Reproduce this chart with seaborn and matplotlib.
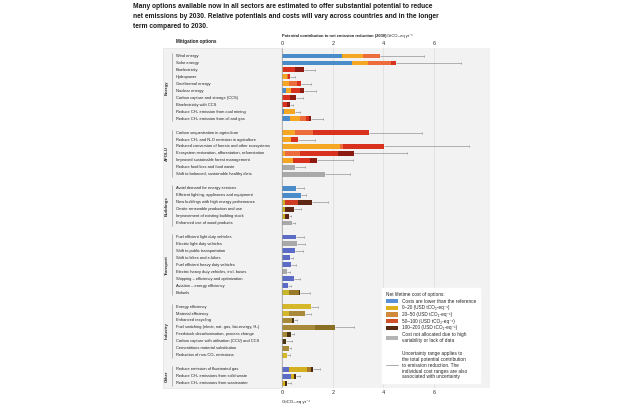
import numpy as np
import pandas as pd
import matplotlib
matplotlib.use("Agg")
import matplotlib.pyplot as plt
import seaborn as sns
from matplotlib.patches import Patch, Rectangle
from matplotlib.lines import Line2D

# data (GtCO2-eq per year)
sectors = ["Energy", "AFOLU", "Buildings", "Transport", "Industry", "Other"]
sector_sizes = [10, 7, 6, 9, 8, 3]

options = [
    "Wind energy", "Solar energy", "Bioelectricity", "Hydropower", "Geothermal energy",
    "Nuclear energy", "Carbon capture and storage (CCS)", "Bioelectricity with CCS",
    "Reduce CH₄ emission from coal mining", "Reduce CH₄ emission from oil and gas",
    "Carbon sequestration in agriculture", "Reduce CH₄ and N₂O emission in agriculture",
    "Reduced conversion of forests and other ecosystems",
    "Ecosystem restoration, afforestation, reforestation",
    "Improved sustainable forest management", "Reduce food loss and food waste",
    "Shift to balanced, sustainable healthy diets",
    "Avoid demand for energy services", "Efficient lighting, appliances and equipment",
    "New buildings with high energy performance", "Onsite renewable production and use",
    "Improvement of existing building stock", "Enhanced use of wood products",
    "Fuel efficient light duty vehicles", "Electric light duty vehicles",
    "Shift to public transportation", "Shift to bikes and e-bikes",
    "Fuel efficient heavy duty vehicles", "Electric heavy duty vehicles, incl. buses",
    "Shipping – efficiency and optimization", "Aviation – energy efficiency", "Biofuels",
    "Energy efficiency", "Material efficiency", "Enhanced recycling",
    "Fuel switching (electr, nat. gas, bio-energy, H₂)",
    "Feedstock decarbonisation, process change",
    "Carbon capture with utilisation (CCU) and CCS",
    "Cementitious material substitution", "Reduction of non-CO₂ emissions",
    "Reduce emission of fluorinated gas", "Reduce CH₄ emissions from solid waste",
    "Reduce CH₄ emissions from wastewater",
]

cost_below = [2.36, 2.76, 0, 0, 0, 0.17, 0, 0, 0.07, 0.30,
              0, 0, 0, 0, 0, 0, 0,
              0.56, 0.73, 0, 0, 0, 0,
              0.56, 0, 0.52, 0.30, 0.35, 0, 0.47, 0.24, 0,
              0, 0, 0, 0, 0, 0, 0, 0,
              0.26, 0.37, 0]
cost_0_20 = [0.83, 0.63, 0.05, 0.20, 0.26, 0.20, 0, 0, 0.43, 0.40,
             0.52, 0.37, 2.27, 0.13, 0.42, 0, 0,
             0, 0, 0.10, 0.13, 0.13, 0,
             0, 0, 0, 0, 0, 0, 0, 0, 0.26,
             1.13, 0.26, 0, 0, 0, 0, 0, 0.20,
             0.74, 0.10, 0.13]
cost_20_50 = [0.66, 0.91, 0, 0.05, 0.33, 0, 0, 0, 0, 0.25,
              0.70, 0, 0.15, 0.59, 0, 0, 0,
              0, 0, 0, 0, 0, 0,
              0, 0, 0, 0, 0, 0, 0, 0, 0.40,
              0, 0.66, 0.39, 1.29, 0.20, 0, 0.26, 0,
              0.13, 0, 0]
cost_50_100 = [0, 0.20, 0.45, 0.08, 0.14, 0.33, 0.33, 0.20, 0, 0.10,
               2.20, 0.26, 1.62, 1.48, 0.70, 0, 0,
               0, 0, 0.55, 0, 0, 0,
               0, 0, 0, 0, 0, 0, 0, 0, 0,
               0, 0, 0, 0.81, 0, 0, 0, 0,
               0, 0, 0]
cost_100_200 = [0, 0, 0.37, 0, 0, 0.17, 0.21, 0.12, 0, 0.11,
                0, 0, 0, 0.63, 0.27, 0, 0,
                0, 0, 0.53, 0.34, 0.13, 0,
                0, 0, 0, 0, 0, 0, 0, 0, 0.04,
                0, 0, 0.08, 0, 0.17, 0.16, 0, 0,
                0.09, 0.09, 0.07]
cost_na = [0, 0, 0, 0, 0, 0, 0, 0, 0, 0,
           0, 0, 0, 0, 0, 0.50, 1.68,
           0, 0, 0, 0, 0, 0.39,
           0, 0.60, 0, 0, 0, 0.21, 0, 0, 0,
           0, 0, 0, 0, 0, 0, 0, 0,
           0, 0, 0]
range_high = [5.6, 7.04, 1.29, 0.5, 1.13, 1.35, 0.83, 0.45, 0.7, 1.61,
              5.5, 1.3, 7.36, 4.92, 2.8, 0.9, 2.7,
              0.87, 0.96, 1.81, 0.73, 0.34, 0.52,
              0.87, 0.9, 0.83, 0.43, 0.55, 0.33, 0.7, 0.37, 1.09,
              1.42, 1.15, 0.6, 2.85, 0.49, 0.4, 0.34, 0.3,
              1.5, 0.7, 0.35]

cost_labels = ["Costs are lower than the reference",
               "0–20 (USD tCO₂-eq⁻¹)", "20–50 (USD tCO₂-eq⁻¹)",
               "50–100 (USD tCO₂-eq⁻¹)", "100–200 (USD tCO₂-eq⁻¹)",
               "Cost not allocated due to high\nvariability or lack of data"]
legend_colors = ["#5b8fd6", "#dcb020", "#cf8a3a", "#d0502a", "#5a2a10", "#b3b3b3"]

# bar colours as they appear in each block of the figure
sector_colors = {
    "Energy":    ["#4a8bc9", "#f5a623", "#ec6c3c", "#d8321e", "#8e1b12", "#a9a9a9"],
    "AFOLU":     ["#4a8bc9", "#f5a623", "#ec6c3c", "#d8321e", "#8e1b12", "#a9a9a9"],
    "Buildings": ["#4a8bc9", "#c9b12a", "#a88a2e", "#cf3a22", "#5e2614", "#a9a9a9"],
    "Transport": ["#5c6bc6", "#c8b62a", "#9a7a2a", "#b0501e", "#4a3510", "#a9a9a9"],
    "Industry":  ["#5c6bc6", "#d4b82a", "#a8893a", "#8a7025", "#4a3510", "#a9a9a9"],
    "Other":     ["#5c6bc6", "#d4b020", "#a87a2a", "#c0501e", "#4a2a10", "#a9a9a9"],
}

sector_of = [s for s, n in zip(sectors, sector_sizes) for _ in range(n)]
sector_idx = [i for i, n in enumerate(sector_sizes) for _ in range(n)]
pos = np.arange(len(options)) + np.array(sector_idx)

layers = np.array([cost_below, cost_0_20, cost_20_50, cost_50_100, cost_100_200, cost_na])
cum = np.cumsum(layers, axis=0)
total = cum[-1]

sns.set_theme(style="white")
fam = ["Liberation Sans", "DejaVu Sans"]
plt.rcParams["font.family"] = fam

fig = plt.figure(figsize=(6.4, 4.08), dpi=100)
ax = fig.add_axes([282 / 640, 1 - 388 / 408, 208 / 640, 340 / 408])

# grey panel behind the labels
fig.patches.append(Rectangle((163 / 640, 1 - 388 / 408), 118 / 640, 340 / 408,
                             transform=fig.transFigure, facecolor="#f2f2f2",
                             edgecolor="#dddddd", lw=0.4, zorder=-5))
ax.set_facecolor("#f2f2f2")

# uncertainty whiskers
ax.hlines(pos, total, range_high, color="#8a8a8a", lw=0.45, zorder=1)
ax.plot(range_high, pos, ls="none", marker="|", ms=1.8, mew=0.45, color="#8a8a8a", zorder=1)

# stacked bars: draw cumulative sums from the outside in
for k in range(len(layers) - 1, -1, -1):
    df = pd.DataFrame({"val": cum[k], "pos": pos, "sector": sector_of})
    pal = {s: sector_colors[s][k] for s in sectors}
    sns.barplot(data=df, x="val", y="pos", hue="sector", palette=pal, orient="h",
                native_scale=True, dodge=False, width=0.7, legend=False,
                linewidth=0, saturation=1, ax=ax, zorder=2)

ax.set_xlim(0, 8.2)
ax.set_ylim(47.7, -1.15)
ax.set_xticks([0, 2, 4, 6])
ax.set_yticks([])
ax.set_xlabel("")
ax.set_ylabel("")
ax.tick_params(axis="x", top=True, labeltop=True, length=0, pad=1.5, labelsize=4,
               colors="#333333")
for x in [2, 4, 6]:
    ax.axvline(x, color="#dcdcdc", lw=0.5, zorder=0.5)
ax.axvline(0, color="#999999", lw=0.5, zorder=3)
for sp in ax.spines.values():
    sp.set_visible(False)

# option labels and sector brackets
tr = ax.get_yaxis_transform()
for p, name in zip(pos, options):
    ax.text(-0.51, p, name, transform=tr, fontsize=2.9, va="center", ha="left",
            color="#222222", clip_on=False)
start = 0
for s, n in zip(sectors, sector_sizes):
    p0, p1 = pos[start], pos[start + n - 1]
    ax.plot([-0.53, -0.53], [p0 - 0.4, p1 + 0.4], transform=tr, color="#888888",
            lw=0.4, clip_on=False)
    ax.text(-0.553, (p0 + p1) / 2, s, transform=tr, rotation=90, fontsize=3.2,
            fontweight="bold", va="center", ha="center", color="#333333", clip_on=False)
    start += n

fig.text(176 / 640, 1 - 41 / 408, "Mitigation options", fontsize=3.3, fontweight="bold",
         va="center", ha="left", color="#222222")
head = fig.text(282 / 640, 1 - 36 / 408,
                "Potential contribution to net emission reduction (2030)", fontsize=2.9,
                fontweight="bold", va="center", ha="left", color="#222222")
ax.annotate(" GtCO₂-eq yr⁻¹", xy=(1, 0.5), xycoords=head, fontsize=2.9, va="center",
            ha="left", color="#222222", annotation_clip=False)
fig.text(282 / 640, 1 - 402 / 408, "GtCO₂-eq yr⁻¹", fontsize=3.2, va="center",
         ha="left", color="#222222")

fig.text(133 / 640, 1 - 2.5 / 408,
         "Many options available now in all sectors are estimated to offer substantial potential to reduce\n"
         "net emissions by 2030. Relative potentials and costs will vary across countries and in the longer\n"
         "term compared to 2030.",
         fontsize=4.8, fontweight="bold", va="top", ha="left", color="#1a1a1a",
         linespacing=1.6)

# legend
handles = [Patch(facecolor=c, edgecolor="none") for c in legend_colors]
labels = list(cost_labels)
handles.append(Line2D([], [], color="none"))
labels.append("")
handles.append(Line2D([], [], color="#8a8a8a", lw=0.5))
labels.append("Uncertainty range applies to\nthe total potential contribution\n"
              "to emission reduction. The\nindividual cost ranges are also\n"
              "associated with uncertainty")
leg = ax.legend(handles, labels, title="Net lifetime cost of options:",
                loc="upper left", bbox_to_anchor=(0.47, 0.3), fontsize=3.4,
                title_fontsize=3.4, frameon=True, fancybox=False, framealpha=1,
                edgecolor="white", handlelength=2.6, handleheight=1.1,
                labelspacing=0.35, borderpad=0.8)
leg._legend_box.align = "left"

fig.savefig("out.png", dpi=100, facecolor="white")
